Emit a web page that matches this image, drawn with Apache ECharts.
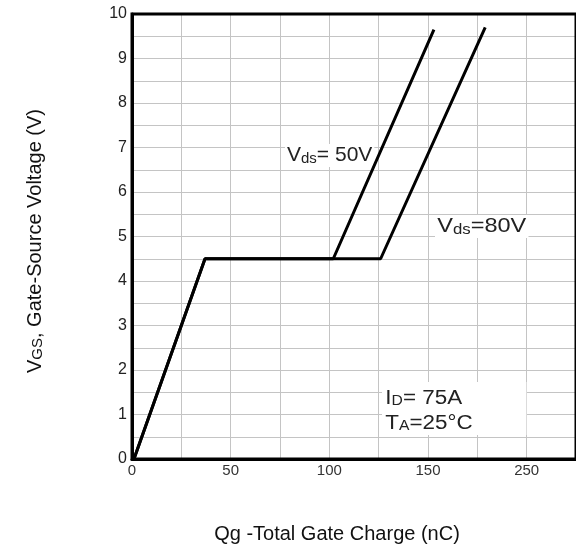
<!DOCTYPE html>
<html>
<head>
<meta charset="utf-8">
<script src="https://cdn.jsdelivr.net/npm/echarts@6/dist/echarts.min.js"></script>
<style>
html,body{margin:0;padding:0;background:#fff;}
#main{width:576px;height:552px;}
</style>
</head>
<body>
<div id="main"></div>
<script>
// Data
const vds50 = [[1, 0], [37, 4.5], [102, 4.5], [153, 9.65]];
const vds80 = [[1, 0], [37, 4.5], [126, 4.5], [179, 9.7]];
const xTickLabels = {0: '0', 50: '50', 100: '100', 150: '150', 200: '250'};
const yTickLabels = {0: '0', 1: '1', 2: '2', 3: '3', 4: '4', 5: '5', 6: '6', 7: '7', 8: '8', 9: '9', 10: '10'};

const FONT = '"Liberation Sans", Arial, sans-serif';
const chart = echarts.init(document.getElementById('main'), null, {renderer: 'canvas'});

const lineStyle = {color: '#000', width: 3};
const richAnn = {
  b: {fontSize: 21, fontFamily: FONT, fill: '#222', verticalAlign: 'bottom'},
  s: {fontSize: 15, fontFamily: FONT, fill: '#222', verticalAlign: 'bottom'}
};

chart.setOption({
  backgroundColor: '#fff',
  animation: false,
  grid: {left: 132, top: 14, width: 447, height: 445, show: true, borderColor: '#000', borderWidth: 3, backgroundColor: 'transparent', z: 3},
  xAxis: {
    type: 'value', min: 0, max: 225, interval: 25,
    axisLine: {show: true, lineStyle: {color: '#000', width: 3}},
    axisTick: {show: false},
    splitLine: {show: true, lineStyle: {color: '#c4c4c4', width: 1}},
    axisLabel: {
      color: '#333', fontFamily: FONT, fontSize: 15, margin: 4, showMaxLabel: false,
      formatter: v => (xTickLabels[v] !== undefined ? xTickLabels[v] : '')
    }
  },
  yAxis: {
    type: 'value', min: 0, max: 10, interval: 0.5,
    axisLine: {show: true, lineStyle: {color: '#000', width: 3}},
    axisTick: {show: false},
    splitLine: {show: true, lineStyle: {color: '#c4c4c4', width: 1}},
    axisLabel: {
      color: '#222', fontFamily: FONT, fontSize: 16, margin: 5,
      formatter: v => (yTickLabels[v] !== undefined ? yTickLabels[v] : '')
    }
  },
  series: [
    {name: 'Vds=50V', type: 'line', data: vds50, symbol: 'none', lineStyle: lineStyle, z: 5},
    {name: 'Vds=80V', type: 'line', data: vds80, symbol: 'none', lineStyle: lineStyle, z: 5}
  ],
  graphic: [
    {type: 'text', x: 285, y: 144, z: 4, style: {
      text: '{b|V}{s|ds}{b|= 50V}', backgroundColor: '#fff', padding: [1, 2, 1, 2], rich: richAnn
    }},
    {type: 'text', x: 435, y: 215, scaleX: 1.12, z: 10, style: {
      text: '{b|V}{s|ds}{b|=80V}', backgroundColor: '#fff', padding: [1, 2, 1, 2], rich: richAnn
    }},
    {type: 'text', x: 382, y: 382, scaleX: 1.12, z: 10, style: {
      text: '{b|I}{s|D}{b|= 75A}\n{b|T}{s|A}{b|=25°C}', backgroundColor: '#fff', padding: [1, 48, 2, 3],
      rich: {
        b: {fontSize: 20, fontFamily: FONT, fill: '#222', verticalAlign: 'bottom', lineHeight: 25},
        s: {fontSize: 14, fontFamily: FONT, fill: '#222', verticalAlign: 'bottom', lineHeight: 25}
      }
    }},
    {type: 'text', x: 337, y: 534, z: 10, style: {
      text: 'Qg -Total Gate Charge (nC)', fill: '#111', fontSize: 20, fontFamily: FONT, align: 'center', verticalAlign: 'middle'
    }},
    {type: 'text', x: 35, y: 241, rotation: Math.PI / 2, z: 10, style: {
      text: '{b|V}{s|GS}{b|, Gate-Source Voltage (V)}', align: 'center', verticalAlign: 'middle',
      rich: {
        b: {fontSize: 20, fontFamily: FONT, fill: '#111', verticalAlign: 'bottom'},
        s: {fontSize: 15, fontFamily: FONT, fill: '#111', verticalAlign: 'bottom'}
      }
    }}
  ]
});
</script>
</body>
</html>
